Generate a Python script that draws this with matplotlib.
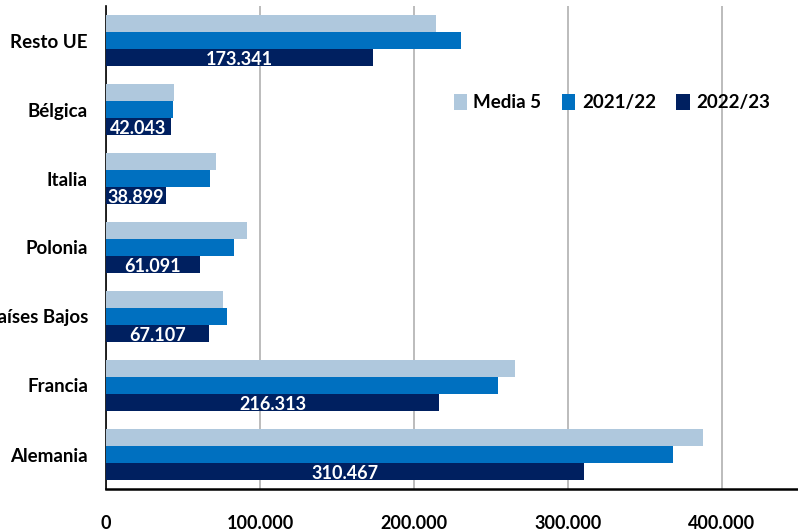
import numpy as np
import matplotlib.pyplot as plt

plt.rcParams['font.family'] = ['Lato', 'DejaVu Sans']
plt.rcParams['font.weight'] = 'bold'

# Data (t), categories listed bottom to top
paises = ['Alemania', 'Francia', 'Países Bajos', 'Polonia', 'Italia', 'Bélgica', 'Resto UE']
media5 = [388000, 265300, 76000, 91500, 71400, 44000, 214000]
c2021_22 = [368000, 254800, 78500, 83000, 67500, 43500, 230500]
c2022_23 = [310467, 216313, 67107, 61091, 38899, 42043, 173341]

series = ['Media 5', '2021/22', '2022/23']
colores = ['#AFC8DD', '#0070C0', '#002060']
xticks = [0, 100000, 200000, 300000, 400000]
xtick_labels = ['0', '100.000', '200.000', '300.000', '400.000']

fig = plt.figure(figsize=(7.98, 5.31), dpi=100)
ax = fig.add_axes([106 / 798, 42 / 531, 692 / 798, 483 / 531])

y = np.arange(len(paises))
h = 0.25
ax.barh(y + h, media5, height=h, color=colores[0], label=series[0], zorder=3)
ax.barh(y, c2021_22, height=h, color=colores[1], label=series[1], zorder=3)
bars = ax.barh(y - h, c2022_23, height=h, color=colores[2], label=series[2], zorder=3)

for b, v in zip(bars, c2022_23):
    ax.text(b.get_width() / 2, b.get_y() + b.get_height() / 2 - 0.03,
            f'{v:,}'.replace(',', '.'), color='white', fontsize=13,
            fontweight='bold', ha='center', va='center', zorder=4)

ax.set_xlim(0, 449400)
ax.set_ylim(-0.5, len(paises) - 0.5)
ax.set_xticks(xticks)
ax.set_xticklabels(xtick_labels, fontsize=13, fontweight='bold')
ax.set_yticks(y)
ax.set_yticklabels(paises, fontsize=13.5, fontweight='bold')
ax.tick_params(axis='both', length=0)
ax.tick_params(axis='x', pad=19)
ax.tick_params(axis='y', pad=13)

ax.grid(axis='x', color='#B0B0B0', linewidth=1.2, zorder=0)
ax.spines['top'].set_visible(False)
ax.spines['right'].set_visible(False)
ax.spines['left'].set_linewidth(1.2)
ax.spines['bottom'].set_linewidth(1.8)

ax.legend(loc='center', bbox_to_anchor=(0.731, 0.80), ncol=3, frameon=False,
          fontsize=13.5, handlelength=0.7, handleheight=0.9, handletextpad=0.35,
          columnspacing=1.1, borderaxespad=0)

plt.savefig('out.png', dpi=100)
